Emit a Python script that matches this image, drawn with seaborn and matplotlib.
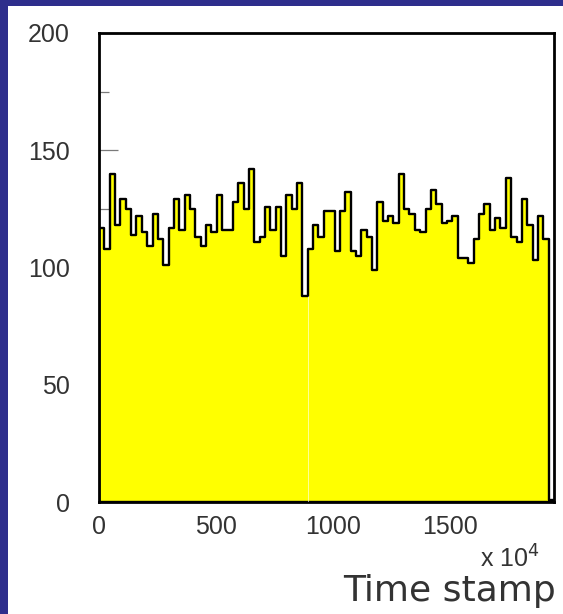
import numpy as np
import pandas as pd
import matplotlib
matplotlib.use("Agg")
import matplotlib.pyplot as plt
from matplotlib.patches import Rectangle
import seaborn as sns

# Entries per time-stamp bin (time stamp in units of 10^4)
counts = [117, 108, 140, 118, 129, 125, 114, 122, 115, 109,
          123, 112, 101, 117, 129, 116, 131, 125, 113, 109,
          118, 115, 131, 116, 116, 128, 136, 125, 142, 111,
          113, 126, 116, 126, 105, 131, 125, 136, 88, 108,
          118, 113, 124, 124, 107, 124, 132, 107, 105, 116,
          113, 99, 128, 120, 122, 119, 140, 125, 123, 116,
          115, 125, 133, 127, 119, 120, 122, 104, 104, 102,
          112, 123, 127, 116, 121, 117, 138, 113, 111, 129,
          118, 103, 122, 112, 1]
x_max = 1945
y_ticks = [0, 50, 100, 150, 200]
x_ticks = [0, 500, 1000, 1500]

n_bins = len(counts)
edges = np.linspace(0, x_max, n_bins + 1)
centers = (edges[:-1] + edges[1:]) / 2
# one row per recorded event, placed at its bin centre
events = pd.DataFrame({"stamp": np.repeat(centers, counts)})

sns.set_style("white")
plt.rcParams["font.family"] = ["Liberation Sans", "DejaVu Sans"]

W, H = 563, 614
fig = plt.figure(figsize=(W / 100, H / 100), dpi=100, facecolor="#2E2E8C")
fig.patches.append(Rectangle((8 / W, 0), 1, (H - 6) / H, transform=fig.transFigure,
                             facecolor="white", edgecolor="none", zorder=-1))

ax = fig.add_axes([99 / W, (H - 502) / H, (554 - 99) / W, (502 - 33) / H])
ax.set_facecolor("white")

sns.histplot(data=events, x="stamp", bins=n_bins, binrange=(0, x_max),
             element="step", fill=True, color="#FFFF00", edgecolor="black",
             linewidth=1.7, alpha=1, ax=ax)

# faint seam in the filled area at the low bin
low = int(np.argmin(counts[:-1]))
ax.vlines(edges[low + 1], 0, counts[low], color="white", linewidth=0.6,
          alpha=0.7, zorder=3)

ax.set_xlim(0, x_max)
ax.set_ylim(0, 200)
ax.set_xlabel("")
ax.set_ylabel("")
ax.set_axisbelow(True)

ax.set_yticks(y_ticks)
ax.set_yticks(np.arange(25, 200, 50), minor=True)
ax.set_xticks(x_ticks)
ax.set_xticklabels([str(v) for v in x_ticks])
ax.tick_params(axis="y", which="major", direction="in", length=14, width=0.9,
               color="#7a7a7a", pad=21, labelsize=18, labelcolor="#333333",
               left=True)
ax.tick_params(axis="y", which="minor", direction="in", length=7, width=0.9,
               color="#7a7a7a", left=True)
ax.tick_params(axis="x", which="both", length=0, pad=9, labelsize=18,
               labelcolor="#333333")

for sp in ax.spines.values():
    sp.set_visible(True)
    sp.set_color("black")
    sp.set_linewidth(2.0)

fig.text(556 / W, (H - 591) / H, "Time stamp", ha="right", va="center",
         fontsize=26, color="#333333", family=["DejaVu Sans"])
fig.text(540 / W, (H - 559) / H, r"x 10$^{4}$", ha="right", va="center",
         fontsize=18, color="#333333", family=["Liberation Sans", "DejaVu Sans"])

fig.savefig("out.png", dpi=100, facecolor=fig.get_facecolor())
